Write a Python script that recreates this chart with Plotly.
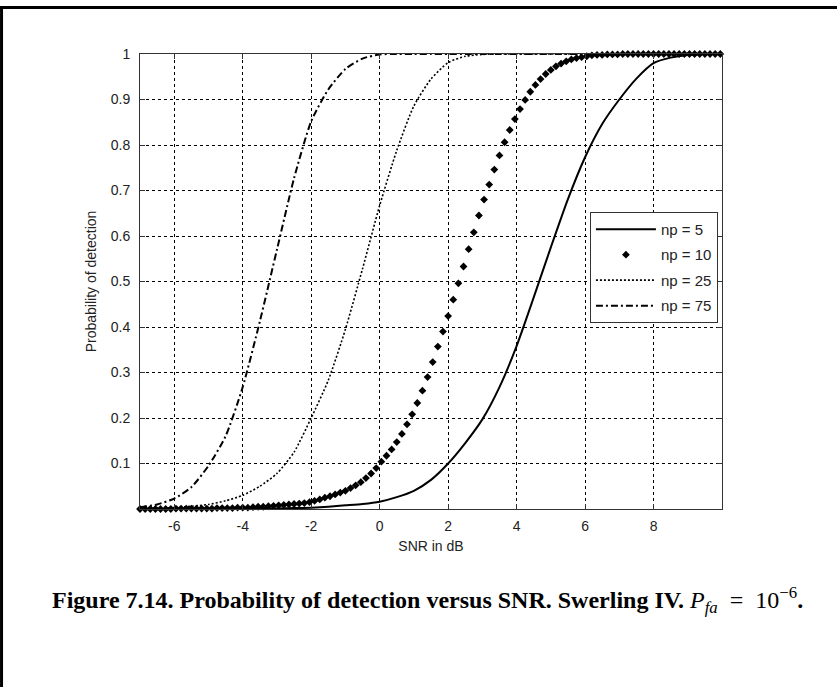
import plotly.graph_objects as go

# ---- data ----
snr_fine = [-7.00, -6.85, -6.70, -6.55, -6.40, -6.25, -6.10, -5.95, -5.80, -5.65,
            -5.50, -5.35, -5.20, -5.05, -4.90, -4.75, -4.60, -4.45, -4.30, -4.15,
            -4.00, -3.85, -3.70, -3.55, -3.40, -3.25, -3.10, -2.95, -2.80, -2.65,
            -2.50, -2.35, -2.20, -2.05, -1.90, -1.75, -1.60, -1.45, -1.30, -1.15,
            -1.00, -0.85, -0.70, -0.55, -0.40, -0.25, -0.10, 0.05, 0.20, 0.35,
            0.50, 0.65, 0.80, 0.95, 1.10, 1.25, 1.40, 1.55, 1.70, 1.85,
            2.00, 2.15, 2.30, 2.45, 2.60, 2.75, 2.90, 3.05, 3.20, 3.35,
            3.50, 3.65, 3.80, 3.95, 4.10, 4.25, 4.40, 4.55, 4.70, 4.85,
            5.00, 5.15, 5.30, 5.45, 5.60, 5.75, 5.90, 6.05, 6.20, 6.35,
            6.50, 6.65, 6.80, 6.95, 7.10, 7.25, 7.40, 7.55, 7.70, 7.85,
            8.00, 8.15, 8.30, 8.45, 8.60, 8.75, 8.90, 9.05, 9.20, 9.35,
            9.50, 9.65, 9.80, 9.95]

pd_np10 = [0.000, 0.000, 0.000, 0.000, 0.000, 0.000, 0.000, 0.001, 0.001, 0.001,
           0.001, 0.001, 0.001, 0.001, 0.001, 0.002, 0.002, 0.002, 0.002, 0.003,
           0.003, 0.003, 0.004, 0.005, 0.005, 0.006, 0.007, 0.008, 0.009, 0.010,
           0.011, 0.012, 0.013, 0.015, 0.018, 0.021, 0.025, 0.028, 0.032, 0.036,
           0.040, 0.046, 0.052, 0.059, 0.068, 0.078, 0.090, 0.104, 0.117, 0.131,
           0.147, 0.165, 0.186, 0.208, 0.233, 0.260, 0.290, 0.323, 0.357, 0.390,
           0.424, 0.460, 0.496, 0.533, 0.571, 0.608, 0.645, 0.680, 0.713, 0.746,
           0.777, 0.806, 0.833, 0.857, 0.879, 0.899, 0.917, 0.932, 0.945, 0.956,
           0.965, 0.973, 0.979, 0.984, 0.988, 0.991, 0.993, 0.995, 0.997, 0.998,
           0.998, 0.999, 0.999, 0.999, 1.000, 1.000, 1.000, 1.000, 1.000, 1.000,
           1.000, 1.000, 1.000, 1.000, 1.000, 1.000, 1.000, 1.000, 1.000, 1.000,
           1.000, 1.000, 1.000, 1.000]

snr_coarse = [-7.0, -6.5, -6.0, -5.5, -5.0, -4.5, -4.0, -3.5, -3.0, -2.5,
              -2.0, -1.5, -1.0, -0.5, 0.0, 0.5, 1.0, 1.5, 2.0, 2.5,
              3.0, 3.5, 4.0, 4.5, 5.0, 5.5, 6.0, 6.5, 7.0, 7.5,
              8.0, 8.5, 9.0, 9.5, 10.0]

pd_np5 = [0.000, 0.000, 0.000, 0.000, 0.000, 0.000, 0.001, 0.001, 0.001, 0.002,
          0.003, 0.005, 0.008, 0.011, 0.016, 0.026, 0.040, 0.064, 0.100, 0.145,
          0.197, 0.268, 0.358, 0.465, 0.575, 0.681, 0.773, 0.846, 0.900, 0.946,
          0.980, 0.992, 0.998, 1.000, 1.000]

pd_np25 = [0.001, 0.002, 0.003, 0.006, 0.010, 0.018, 0.030, 0.050, 0.078, 0.125,
           0.200, 0.283, 0.395, 0.528, 0.667, 0.788, 0.886, 0.945, 0.981, 0.995,
           0.999, 1.000, 1.000, 1.000, 1.000, 1.000, 1.000, 1.000, 1.000, 1.000,
           1.000, 1.000, 1.000, 1.000, 1.000]

pd_np75 = [0.004, 0.010, 0.023, 0.048, 0.095, 0.160, 0.268, 0.412, 0.570, 0.727,
           0.852, 0.922, 0.967, 0.990, 0.999, 1.000, 1.000, 1.000, 1.000, 1.000,
           1.000, 1.000, 1.000, 1.000, 1.000, 1.000, 1.000, 1.000, 1.000, 1.000,
           1.000, 1.000, 1.000, 1.000, 1.000]

x_tickvals = [-6, -4, -2, 0, 2, 4, 6, 8]
x_ticktext = ["-6", "-4", "-2", "0", "2", "4", "6", "8"]
y_tickvals = [0.1, 0.2, 0.3, 0.4, 0.5, 0.6, 0.7, 0.8, 0.9, 1.0]
y_ticktext = ["0.1", "0.2", "0.3", "0.4", "0.5", "0.6", "0.7", "0.8", "0.9", "1"]

# ---- figure ----
fig = go.Figure()
fig.add_trace(go.Scatter(x=snr_coarse, y=pd_np5, mode="lines", name="np = 5",
                         legendgroup="a",
                         line=dict(color="black", width=2, shape="spline", smoothing=0.6)))
fig.add_trace(go.Scatter(x=snr_fine, y=pd_np10, mode="markers", name="np = 10",
                         legendgroup="b", cliponaxis=False,
                         marker=dict(color="black", size=6, symbol="diamond")))
fig.add_trace(go.Scatter(x=snr_coarse, y=pd_np25, mode="lines", name="np = 25",
                         legendgroup="c",
                         line=dict(color="black", width=1.6, dash="2px,2px",
                                   shape="spline", smoothing=0.6)))
fig.add_trace(go.Scatter(x=snr_coarse, y=pd_np75, mode="lines", name="np = 75",
                         legendgroup="d",
                         line=dict(color="black", width=2, dash="7px,3px,2px,3px",
                                   shape="spline", smoothing=0.6)))

axis_font = dict(family="Liberation Sans, Arial, sans-serif", size=14, color="#222222")
legend_font = dict(family="Liberation Sans, Arial, sans-serif", size=15, color="#222222")

fig.update_xaxes(range=[-7, 10], tickvals=x_tickvals, ticktext=x_ticktext,
                 ticks="inside", ticklen=5, tickcolor="#333333",
                 showline=True, linecolor="#333333", linewidth=1, mirror="ticks",
                 showgrid=True, gridcolor="black", gridwidth=1, griddash="3px,3px",
                 zeroline=False, tickfont=axis_font, ticklabelstandoff=4,
                 title=dict(text="SNR in dB", font=axis_font, standoff=8))
fig.update_yaxes(range=[0, 1], tickvals=y_tickvals, ticktext=y_ticktext,
                 ticks="inside", ticklen=5, tickcolor="#333333",
                 showline=True, linecolor="#333333", linewidth=1, mirror="ticks",
                 showgrid=True, gridcolor="black", gridwidth=1, griddash="3px,3px",
                 zeroline=False, tickfont=axis_font, ticklabelstandoff=6,
                 title=dict(text="Probability of detection", font=axis_font, standoff=10))

# page frame (left and top rules)
fig.add_shape(type="line", xref="paper", yref="paper",
              x0=-0.2405, x1=1.2, y0=1.102, y1=1.102,
              line=dict(color="black", width=3))
fig.add_shape(type="line", xref="paper", yref="paper",
              x0=-0.2379, x1=-0.2379, y0=1.102, y1=-0.42,
              line=dict(color="black", width=3))

nb = "\u00a0"
caption = ("<b>Figure 7.14. Probability of detection versus SNR. Swerling IV.</b> "
           "<i>P</i><sub><i>fa</i></sub>" + nb * 2 + "=" + nb * 2 +
           "10<sup>\u22126</sup><b>.</b>")
fig.add_annotation(text=caption, xref="paper", yref="paper",
                   x=(50 - 140) / 582, y=(509 - 600) / 455,
                   xanchor="left", yanchor="middle", showarrow=False,
                   font=dict(family="Liberation Serif, Times New Roman, serif",
                             size=24, color="black"))

fig.update_layout(
    width=837, height=687,
    margin=dict(l=140, r=115, t=54, b=178, pad=0),
    plot_bgcolor="white", paper_bgcolor="white",
    showlegend=True,
    legend=dict(x=0.993, xanchor="right", y=0.653, yanchor="top",
                bgcolor="white", bordercolor="#333333", borderwidth=1,
                font=legend_font, tracegroupgap=3, itemwidth=60,
                traceorder="grouped"),
)

fig.write_html("out.html", config={"displayModeBar": False},
               post_script="document.body.style.margin='0';document.body.style.overflow='hidden';")
